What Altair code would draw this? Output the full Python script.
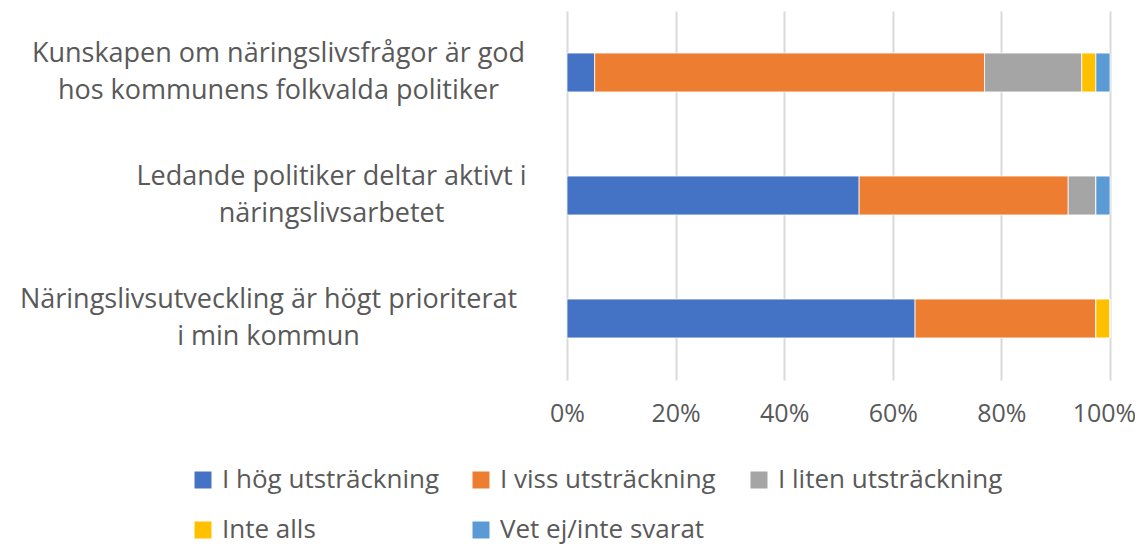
import altair as alt
import pandas as pd

categories = [
    "Kunskapen om näringslivsfrågor är god|hos kommunens folkvalda politiker",
    "Ledande politiker deltar aktivt i|näringslivsarbetet",
    "Näringslivsutveckling är högt prioriterat|i min kommun",
]
series = [
    "I hög utsträckning",
    "I viss utsträckning",
    "I liten utsträckning",
    "Inte alls",
    "Vet ej/inte svarat",
]
colors = ["#4472C4", "#ED7D31", "#A5A5A5", "#FFC000", "#5B9BD5"]
# share of respondents (%) per category, one list per series
hog = [5.1, 53.8, 64.1]
viss = [71.8, 38.5, 33.3]
liten = [17.9, 5.1, 0.0]
inte = [2.6, 0.0, 2.6]
vetej = [2.6, 2.6, 0.0]

values = [hog, viss, liten, inte, vetej]
rows = []
for si, s in enumerate(series):
    for ci, c in enumerate(categories):
        rows.append({"cat": c, "series": s, "order": si, "value": values[si][ci]})
df = pd.DataFrame(rows)

FONT = "Open Sans"
TXT = "#595959"

pad_expr = (
    "indexof(datum.value, 'Kunskapen') == 0 ? 289 : "
    "indexof(datum.value, 'Ledande') == 0 ? 236 : 299"
)

chart = alt.Chart(df).mark_bar(stroke="white", strokeWidth=0.75).encode(
    x=alt.X(
        "value:Q",
        stack="normalize",
        scale=alt.Scale(domain=[0, 1], nice=False),
        axis=alt.Axis(
            format="%",
            values=[0, 0.2, 0.4, 0.6, 0.8, 1.0],
            title=None,
            domain=False,
            ticks=False,
            grid=True,
            gridColor="#D9D9D9",
            gridWidth=2,
            labelFont=FONT,
            labelFontSize=25,
            labelColor=TXT,
            labelPadding=21,
            labelFlush=False,
            labelOffset={"expr": "datum.value == 1 ? -6 : 0"},
        ),
    ),
    y=alt.Y(
        "cat:N",
        sort=categories,
        scale=alt.Scale(paddingInner=0.684, paddingOuter=0.342),
        axis=alt.Axis(
            title=None,
            domain=False,
            ticks=False,
            labelExpr="split(datum.label, '|')",
            labelAlign="center",
            labelBaseline="middle",
            labelPadding={"expr": pad_expr},
            labelOffset=-18.5,
            labelFont=FONT,
            labelFontSize=27,
            labelLineHeight=37,
            labelColor=TXT,
            labelLimit=0,
        ),
    ),
    color=alt.Color(
        "series:N",
        sort=series,
        scale=alt.Scale(domain=series, range=colors),
        legend=alt.Legend(
            title=None,
            orient="none",
            legendX=-377,
            legendY=456,
            direction="horizontal",
            columns=3,
            gridAlign="all",
            columnPadding=21,
            rowPadding=24,
            symbolType="square",
            symbolSize=289,
            symbolStrokeWidth=0,
            labelFont=FONT,
            labelFontSize=26,
            labelColor=TXT,
            labelOffset=6,
            labelLimit=0,
        ),
    ),
    order=alt.Order("order:Q", sort="ascending"),
).properties(
    width=543,
    height=369,
    autosize=alt.AutoSizeParams(type="none"),
    padding={"left": 559, "top": 3, "right": 25, "bottom": 168},
).configure_view(stroke=None)

chart.save("out.html", embed_options={"renderer": "svg", "actions": False})
